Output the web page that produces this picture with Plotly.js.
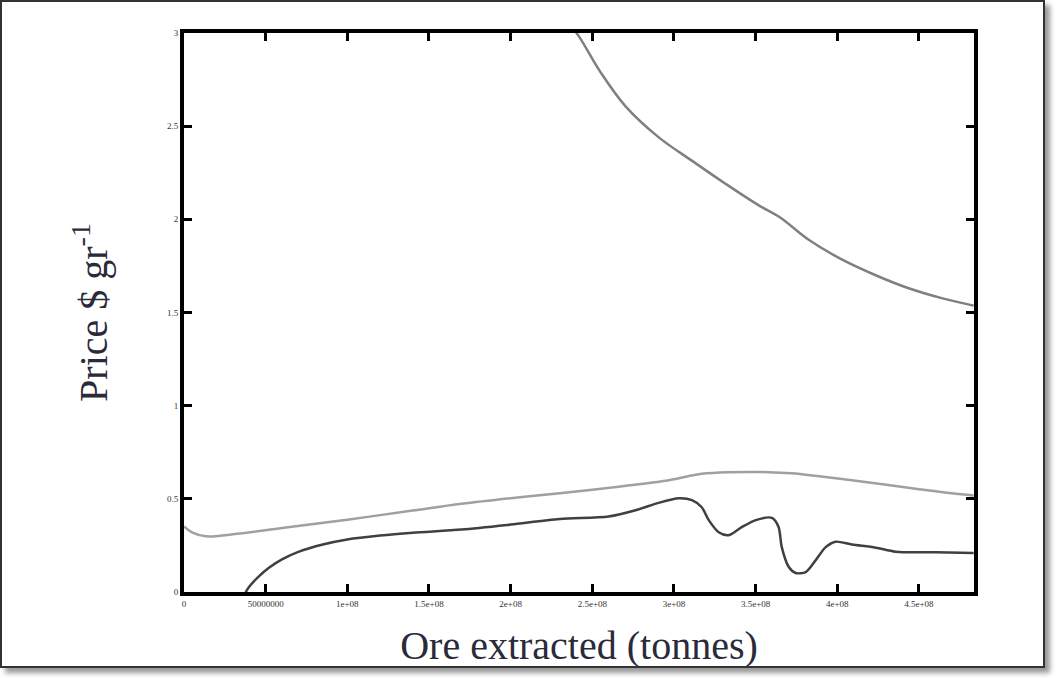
<!DOCTYPE html>
<html>
<head>
<meta charset="utf-8">
<script src="https://cdn.plot.ly/plotly-3.0.1.min.js"></script>
<style>
  html, body { margin: 0; padding: 0; background: #ffffff; }
  #chart { position: absolute; left: 0; top: 0; width: 1057px; height: 678px; }
  #frame { position: absolute; left: 0; top: 0; width: 1041px; height: 664px;
           border: 2px solid #333; box-shadow: 5px 5px 5px #999; pointer-events: none; }
</style>
</head>
<body>
<div id="chart"></div>
<div id="frame"></div>
<script>
// Upper curve (grey, falling)
const upperX = [2.35e8, 2.417e8, 2.55e8, 2.705e8, 2.907e8, 3.109e8, 3.317e8, 3.519e8, 3.65e8, 3.825e8, 4.027e8, 4.235e8, 4.437e8, 4.639e8, 4.835e8];
const upperY = [3.06, 2.983, 2.79, 2.605, 2.44, 2.315, 2.19, 2.075, 2.01, 1.89, 1.785, 1.700, 1.630, 1.577, 1.537];

// Middle curve (light grey)
const middleX = [0, 0.049e8, 0.135e8, 0.3e8, 0.6e8, 1.0e8, 1.4e8, 1.7e8, 2.0e8, 2.3e8, 2.66e8, 2.97e8, 3.17e8, 3.34e8, 3.58e8, 3.72e8, 3.89e8, 4.09e8, 4.3e8, 4.5e8, 4.7e8, 4.835e8];
const middleY = [0.352, 0.320, 0.299, 0.310, 0.343, 0.388, 0.437, 0.473, 0.503, 0.530, 0.565, 0.600, 0.634, 0.643, 0.643, 0.637, 0.621, 0.600, 0.575, 0.552, 0.530, 0.518];

// Lower curve (dark)
const lowerX = [0.36e8, 0.398e8, 0.46e8, 0.52e8, 0.6e8, 0.7e8, 0.85e8, 1.0e8, 1.2e8, 1.4e8, 1.7e8, 2.0e8, 2.3e8, 2.6e8, 2.77e8, 2.9e8, 3.03e8, 3.11e8, 3.17e8, 3.213e8, 3.274e8, 3.335e8, 3.415e8, 3.501e8, 3.6e8, 3.64e8, 3.66e8, 3.703e8, 3.745e8, 3.807e8, 3.868e8, 3.929e8, 3.99e8, 4.09e8, 4.235e8, 4.357e8, 4.6e8, 4.835e8];
const lowerY = [-0.03, 0.027, 0.085, 0.130, 0.175, 0.215, 0.255, 0.282, 0.303, 0.318, 0.335, 0.362, 0.392, 0.405, 0.440, 0.477, 0.503, 0.493, 0.455, 0.386, 0.321, 0.305, 0.348, 0.386, 0.398, 0.350, 0.241, 0.134, 0.102, 0.107, 0.171, 0.241, 0.270, 0.255, 0.238, 0.216, 0.213, 0.209];

const xTickVals = [0, 0.5e8, 1e8, 1.5e8, 2e8, 2.5e8, 3e8, 3.5e8, 4e8, 4.5e8];
const xTickText = ["0", "50000000", "1e+08", "1.5e+08", "2e+08", "2.5e+08", "3e+08", "3.5e+08", "4e+08", "4.5e+08"];
const yTickVals = [0, 0.5, 1, 1.5, 2, 2.5, 3];
const yTickText = ["0", "0.5", "1", "1.5", "2", "2.5", "3"];

const traces = [
  { x: upperX, y: upperY, type: 'scatter', mode: 'lines',
    line: { color: '#808080', width: 2.5, shape: 'spline', smoothing: 1 }, hoverinfo: 'skip' },
  { x: middleX, y: middleY, type: 'scatter', mode: 'lines',
    line: { color: '#a0a0a0', width: 2.5, shape: 'spline', smoothing: 1 }, hoverinfo: 'skip' },
  { x: lowerX, y: lowerY, type: 'scatter', mode: 'lines',
    line: { color: '#404040', width: 2.5, shape: 'spline', smoothing: 0.8 }, hoverinfo: 'skip' }
];

const layout = {
  width: 1057, height: 678,
  margin: { l: 184, r: 83, t: 33, b: 86 },
  paper_bgcolor: '#ffffff', plot_bgcolor: '#ffffff',
  showlegend: false,
  font: { family: '"Liberation Serif", "DejaVu Serif", serif', color: '#222' },
  xaxis: {
    range: [0, 4.837e8], tickmode: 'array', tickvals: xTickVals, ticktext: xTickText,
    showgrid: false, zeroline: false, showline: true, linecolor: '#000', linewidth: 4,
    mirror: 'ticks', ticks: 'inside', ticklen: 8, tickwidth: 3, tickcolor: '#000',
    tickfont: { size: 9, color: '#333' }, automargin: false,
    title: { text: 'Ore extracted (tonnes)', font: { size: 40, color: '#2a2a3a' }, standoff: 24 }
  },
  yaxis: {
    range: [0, 3], tickmode: 'array', tickvals: yTickVals, ticktext: yTickText,
    showgrid: false, zeroline: false, showline: true, linecolor: '#000', linewidth: 4,
    mirror: 'ticks', ticks: 'inside', ticklen: 8, tickwidth: 3, tickcolor: '#000',
    tickfont: { size: 9, color: '#333' }, automargin: false,
    title: { text: 'Price $ gr<sup>-1</sup>', font: { size: 40, color: '#2a2a3a' }, standoff: 48 }
  }
};

Plotly.newPlot('chart', traces, layout, { staticPlot: true, displayModeBar: false });
</script>
</body>
</html>
